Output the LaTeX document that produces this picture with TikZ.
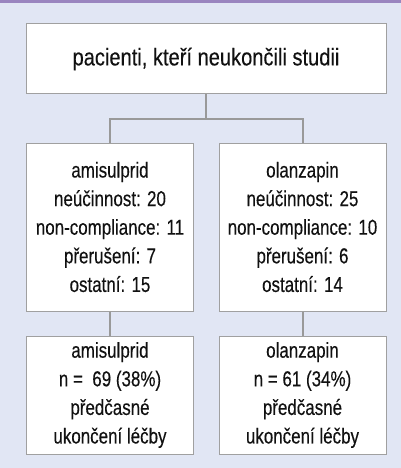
\documentclass[tikz,border=0pt]{standalone}
\usepackage{fontspec}
\setmainfont{Liberation Sans}[FakeStretch=0.785,FakeBold=0.25]
\newfontfamily\topfont{Liberation Sans}[FakeStretch=0.83,FakeBold=0.25]
\definecolor{bgc}{HTML}{E1E6F4}
\definecolor{topband}{HTML}{9A85BF}
\definecolor{linec}{HTML}{999999}
\definecolor{boxline}{HTML}{A0A0A0}
\definecolor{txt}{HTML}{111111}
\tikzset{
  box/.style={draw=boxline, line width=1pt, fill=white, inner sep=0pt, align=center, text=txt,
    font=\fontsize{21.6}{28.6}\selectfont},
  conn/.style={draw=linec, line width=2pt}
}
\begin{document}
\begin{tikzpicture}[x=1pt,y=-1pt]
\useasboundingbox (0,0) rectangle (401,468);
\fill[bgc] (0,0) rectangle (401,468);
\fill[topband] (0,0) rectangle (401,3);
\node[box, minimum width=360pt, minimum height=70pt, font=\topfont\fontsize{24.2}{28}\selectfont] (top) at (206,59) {pacienti, kteří neukončili studii};
\node[box, minimum width=167pt, minimum height=168pt] (ml) at (110,227) {amisulprid\\neúčinnost: 20\\non-compliance: 11\\přerušení: 7\\ostatní: 15};
\node[box, minimum width=167pt, minimum height=168pt] (mr) at (302.5,227) {olanzapin\\neúčinnost: 25\\non-compliance: 10\\přerušení: 6\\ostatní: 14};
\node[box, minimum width=167pt, minimum height=118pt] (bl) at (110,395) {amisulprid\\n =~ 69 (38\%)\\předčasné\\ukončení léčby};
\node[box, minimum width=167pt, minimum height=118pt] (br) at (302.5,395) {olanzapin\\n = 61 (34\%)\\předčasné\\ukončení léčby};
\coordinate (j) at (206,119);
\draw[conn] (top.south) -- (j);
\draw[conn] (ml.north) |- (j) -| (mr.north);
\draw[conn] (ml.south) -- (bl.north);
\draw[conn] (mr.south) -- (br.north);
\end{tikzpicture}
\end{document}
